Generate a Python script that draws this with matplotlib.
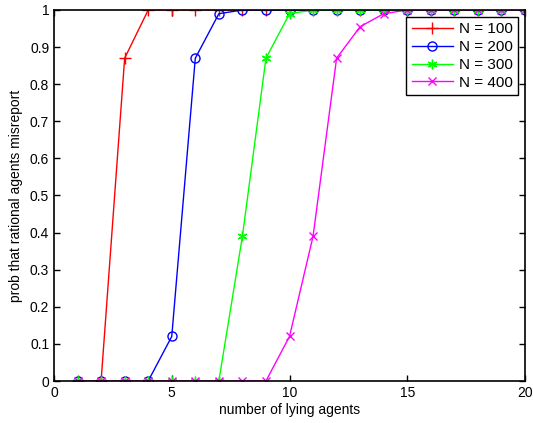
import matplotlib
matplotlib.use("Agg")
import matplotlib.pyplot as plt
import numpy as np

plt.rcParams['font.family'] = ['Liberation Sans', 'DejaVu Sans']

x = list(range(1, 21))
p100 = [0, 0, 0.87, 1, 1, 1, 1, 1, 1, 1, 1, 1, 1, 1, 1, 1, 1, 1, 1, 1]
p200 = [0, 0, 0, 0, 0.12, 0.87, 0.99, 1, 1, 1, 1, 1, 1, 1, 1, 1, 1, 1, 1, 1]
p300 = [0, 0, 0, 0, 0, 0, 0, 0.39, 0.87, 0.99, 1, 1, 1, 1, 1, 1, 1, 1, 1, 1]
p400 = [0, 0, 0, 0, 0, 0, 0, 0, 0, 0.12, 0.39, 0.87, 0.955, 0.99, 1, 1, 1, 1, 1, 1]
labels = ['N = 100', 'N = 200', 'N = 300', 'N = 400']

fig = plt.figure(figsize=(5.33, 4.23), dpi=100)
ax = fig.add_axes([54/533, 1 - 381/423, (525-54)/533, (381-10)/423])

ax.plot(x, p100, color='#ff0000', marker='+', ms=8, mew=1, lw=1, label=labels[0])
ax.plot(x, p200, color='#0000ff', marker='o', ms=6.5, mfc='none', mew=1, lw=1, label=labels[1])
ax.plot(x, p300, color='#00ff00', marker=(6, 2, 0), ms=7, mew=1, lw=1, label=labels[2])
ax.plot(x, p400, color='#ff00ff', marker='x', ms=5.5, mew=1, lw=1, label=labels[3])

ax.set_xlim(0, 20)
ax.set_ylim(0, 1)
ax.set_xticks([0, 5, 10, 15, 20])
ax.set_yticks(np.round(np.arange(0, 1.01, 0.1), 1))
ax.set_yticklabels(['0', '0.1', '0.2', '0.3', '0.4', '0.5', '0.6', '0.7', '0.8', '0.9', '1'])
ax.tick_params(direction='in', top=True, right=True, labelsize=10, length=4, width=1)
for s in ax.spines.values():
    s.set_linewidth(1.2)
ax.set_xlabel('number of lying agents', fontsize=10, labelpad=2)
ax.set_ylabel('prob that rational agents misreport', fontsize=10, labelpad=5)

leg = ax.legend(loc='upper right', fontsize=11, fancybox=False, framealpha=1,
                edgecolor='black', borderaxespad=0.45, handlelength=2.7,
                labelspacing=0.25, borderpad=0.35, handletextpad=0.4)
leg.get_frame().set_linewidth(1)

fig.savefig('out.png', dpi=100)
